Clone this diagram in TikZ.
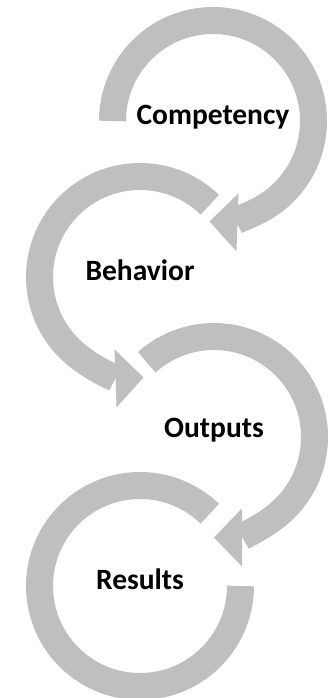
\documentclass[tikz,border=0pt]{standalone}
\usepackage{fontspec}
\setmainfont{Carlito}
\usepackage{tikz}
\usetikzlibrary{arrows.meta}
\definecolor{ringgray}{RGB}{191,191,191}
\tikzset{
    stage/.style={font=\bfseries\fontsize{29.5}{35}\selectfont, text height=0.64em, text depth=0pt, inner sep=0pt, anchor=center},
    ring/.style={draw=ringgray, line width=27pt},
    ringflow/.style={ring, -{Triangle[width=58pt, length=28pt, line width=0pt]}}
}

\begin{document}
\begin{tikzpicture}[x=1pt, y=1pt]
    \useasboundingbox (0,0) rectangle (329,698);

    % Stages
    \node[stage] (competency) at (213,577) {Competency};
    \node[stage] (behavior) at (140,421) {Behavior};
    \node[stage] (outputs) at (214,264) {Outputs};
    \node[stage] (results) at (140,112) {Results};

    % Rings round the stages
    \draw[ringflow] ([shift={(180:100.5)}]competency.center) arc[start angle=180, end angle=-92, radius=100.5];
    \draw[ringflow] ([shift={(46:100.5)}]behavior.center) arc[start angle=46, end angle=272, radius=100.5];
    \draw[ringflow] ([shift={(132:100.5)}]outputs.center) ++(0,-3) arc[start angle=132, end angle=-90, radius=100.5];
    \draw[ring] ([shift={(46:100.5)}]results.center) arc[start angle=46, end angle=360, radius=100.5];
\end{tikzpicture}
\end{document}
